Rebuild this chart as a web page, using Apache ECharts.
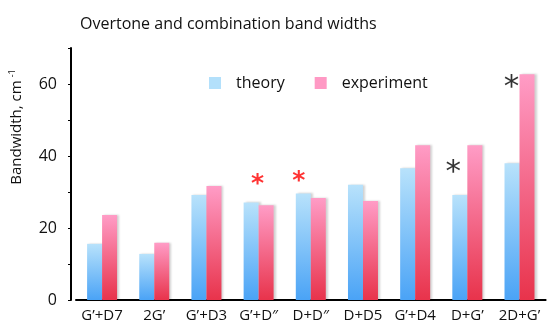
<!DOCTYPE html>
<html>
<head>
<meta charset="utf-8">
<script src="https://cdn.jsdelivr.net/npm/echarts@6/dist/echarts.min.js"></script>
<style>
  html, body { margin: 0; padding: 0; background: #fff; }
  #chart { width: 553px; height: 333px; }
</style>
</head>
<body>
<div id="chart"></div>
<script>
// Band labels and widths (cm^-1)
const categories = ['G’+D7', '2G’', 'G’+D3', 'G’+D″', 'D+D″', 'D+D5', 'G’+D4', 'D+G’', '2D+G’'];
const theory = [15.6, 12.8, 29.2, 27.1, 29.6, 32.0, 36.6, 29.2, 38.0];
const experiment = [23.6, 15.9, 31.7, 26.3, 28.3, 27.5, 43.0, 43.0, 62.7];

// Asterisk annotations: [category index, height]
const redStars = [[3, 33.1], [4, 33.9]];
const blackStars = [[7, 36.7], [8, 60.3]];
const starShift = [-1, -12, -14, -8];

const font = '"Open Sans", sans-serif';

function gradient(top, bottom) {
    return new echarts.graphic.LinearGradient(0, 0, 0, 1, [
        { offset: 0, color: top },
        { offset: 1, color: bottom }
    ]);
}

const chart = echarts.init(document.querySelector('#chart'));

// red stars are a bit smaller than the black ones
const starData = redStars.map((s) => ({ value: s, color: '#ff0000', size: 25, weight: 'bold' }))
    .concat(blackStars.map((s) => ({ value: s, color: '#000', size: 31, weight: 'normal' })))
    .map((s, i) => ({
        value: s.value,
        label: {
            color: s.color,
            fontSize: s.size,
            fontWeight: s.weight,
            lineHeight: s.size,
            offset: [starShift[i], Math.round(s.size * 0.17)]
        }
    }));

const barStyle = {
    shadowColor: 'rgba(0,0,0,0.18)',
    shadowBlur: 2,
    shadowOffsetX: 2
};

chart.setOption({
    animation: false,
    title: {
        text: 'Overtone and combination band widths',
        left: 75,
        top: 11,
        textStyle: { fontFamily: font, fontSize: 16, fontWeight: 'normal', color: '#111' }
    },
    legend: {
        left: 209,
        top: 75,
        padding: 0,
        icon: 'rect',
        itemWidth: 12,
        itemHeight: 12,
        itemGap: 30,
        textStyle: { fontFamily: font, fontSize: 16, color: '#111', padding: [0, 0, 0, 10] },
        data: [
            { name: 'theory', itemStyle: { color: '#b3e0fb', shadowBlur: 0, shadowOffsetX: 0 } },
            { name: 'experiment', itemStyle: { color: '#ff99c4', shadowBlur: 0, shadowOffsetX: 0 } }
        ]
    },
    grid: { left: 74, top: 48, width: 471.6, bottom: 33 },
    xAxis: {
        type: 'category',
        data: categories,
        axisLine: { lineStyle: { color: '#000', width: 2 } },
        axisTick: { show: false },
        axisLabel: { fontFamily: font, fontSize: 15, color: '#111', margin: 8, interval: 0 }
    },
    yAxis: {
        type: 'value',
        min: 0,
        max: 70,
        interval: 10,
        offset: 5,
        name: '{n|Bandwidth, cm}{s|-1}',
        nameLocation: 'middle',
        nameRotate: 90,
        nameGap: 46,
        nameTextStyle: {
            padding: [0, 0, 0, 94],
            rich: {
                n: { fontFamily: font, fontSize: 15, color: '#111' },
                s: { fontFamily: font, fontSize: 9, color: '#111', verticalAlign: 'top', padding: [0, 0, 8, 3] }
            }
        },
        splitLine: { show: false },
        axisLine: { show: true, lineStyle: { color: '#000', width: 2 } },
        axisTick: { show: true, length: 3, lineStyle: { color: '#000' } },
        axisLabel: {
            fontFamily: font, fontSize: 16, color: '#111', margin: 14,
            formatter: (v) => (v % 20 === 0 ? v : '')
        }
    },
    series: [
        {
            name: 'theory',
            type: 'bar',
            barWidth: 15,
            barGap: '0%',
            itemStyle: Object.assign({ color: gradient('#b8e2fb', '#4aa3f6') }, barStyle),
            data: theory
        },
        {
            name: 'experiment',
            type: 'bar',
            barWidth: 15,
            itemStyle: Object.assign({ color: gradient('#ff9cc6', '#e8334b') }, barStyle),
            data: experiment
        },
        {
            name: 'stars',
            type: 'scatter',
            symbolSize: 0,
            silent: true,
            label: {
                show: true,
                position: 'inside',
                formatter: '*',
                fontFamily: '"DejaVu Sans", sans-serif'
            },
            data: starData
        }
    ]
});
</script>
</body>
</html>
